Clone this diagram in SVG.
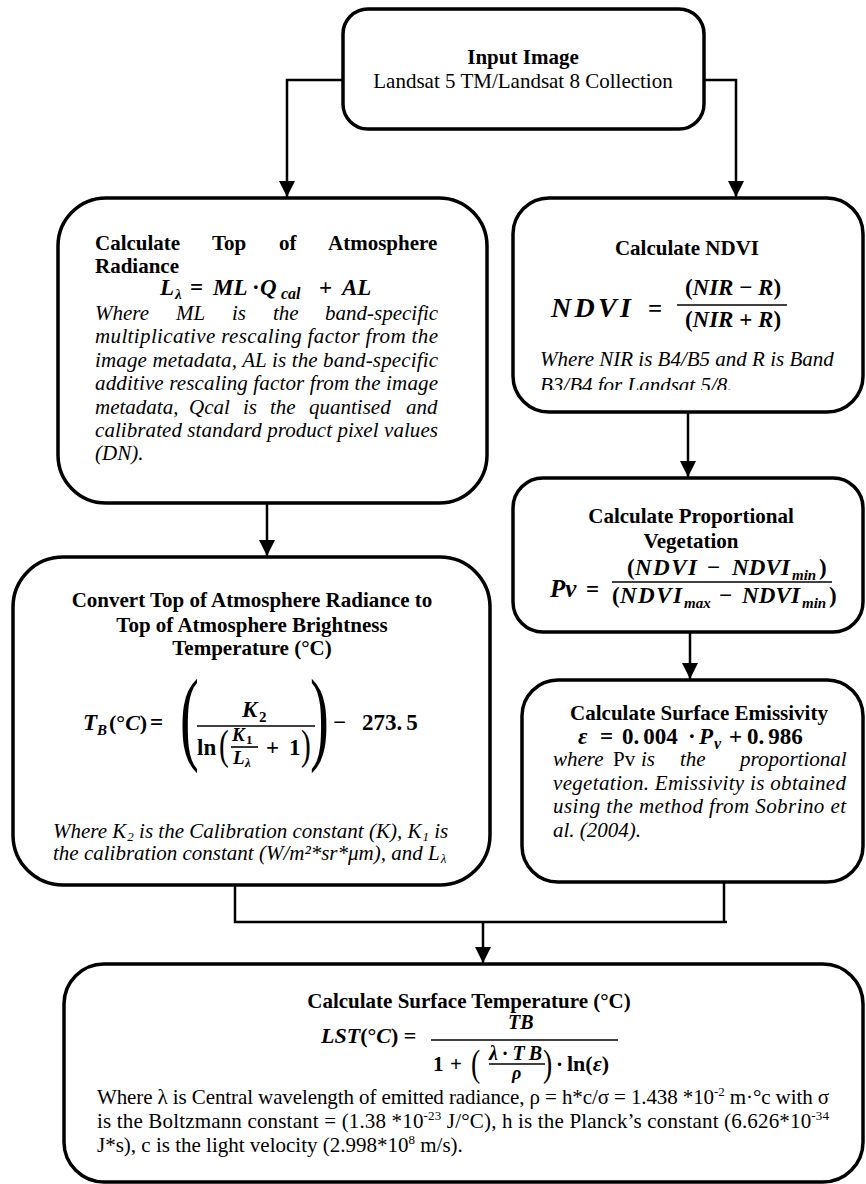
<svg xmlns="http://www.w3.org/2000/svg" width="866" height="1184" viewBox="0 0 866 1184">
<defs>
<style>
.box{fill:#fff;stroke:#000;stroke-width:3.5}
.c{fill:none;stroke:#000;stroke-width:2.5}
.bar{stroke:#000;stroke-width:1.6}
.h{font-family:"Liberation Serif","Times New Roman",serif;font-weight:bold;font-size:21px;fill:#000}
.t{font-family:"Liberation Serif","Times New Roman",serif;font-size:21px;fill:#000}
.i{font-family:"Liberation Serif","Times New Roman",serif;font-style:italic;font-size:21px;fill:#000}
.m{font-family:"Liberation Serif","Times New Roman",serif;font-weight:bold;font-style:italic;font-size:23px;fill:#000}
.u{font-family:"Liberation Serif","Times New Roman",serif;font-weight:bold;font-size:23px;fill:#000}
.p{font-family:"Liberation Serif","Times New Roman",serif;fill:#000}
.n{font-style:normal}
</style>
<marker id="arr" viewBox="0 0 16 16" refX="16" refY="8" markerWidth="16" markerHeight="16" markerUnits="userSpaceOnUse" orient="auto">
<path d="M0,0 L16,8 L0,16 z" fill="#000"/>
</marker>
<clipPath id="clipNdvi"><rect x="513" y="360" width="350" height="30"/></clipPath>
<clipPath id="clipConv"><rect x="13" y="815" width="440" height="60"/></clipPath>
</defs>
<rect width="866" height="1184" fill="#fff"/>

<g id="input-image">
<rect class="box" x="343" y="9" width="361" height="120" rx="25"/>
<text class="h" x="523" y="64" text-anchor="middle">Input Image</text>
<text class="t" x="523" y="88" text-anchor="middle">Landsat 5 TM/Landsat 8 Collection</text>
</g>

<g id="toa-radiance">
<rect class="box" x="58" y="198" width="429" height="305" rx="48"/>
<text class="h" y="250"><tspan x="95">Calculate</tspan><tspan x="212">Top</tspan><tspan x="279">of</tspan><tspan x="328">Atmosphere</tspan></text>
<text class="h" x="95" y="273">Radiance</text>
<text class="m" x="160" y="295">L</text>
<text class="m" x="175" y="299" style="font-size:15px">λ</text>
<text class="u" x="190" y="295">=</text>
<text class="m" x="213" y="295">ML</text>
<text class="u" x="252" y="295">·</text>
<text class="m" x="260" y="295">Q</text>
<text class="m" x="281" y="299" style="font-size:16px">cal</text>
<text class="u" x="319" y="295">+</text>
<text class="m" x="342" y="295">AL</text>
<text class="i" y="320"><tspan x="95">Where</tspan><tspan x="176">ML</tspan><tspan x="232">is</tspan><tspan x="273">the</tspan><tspan x="325">band-specific</tspan></text>
<text class="i" x="95" y="343" textLength="343" lengthAdjust="spacing">multiplicative rescaling factor from the</text>
<text class="i" x="95" y="367" textLength="343" lengthAdjust="spacing">image metadata, AL is the band-specific</text>
<text class="i" x="95" y="390" textLength="343" lengthAdjust="spacing">additive rescaling factor from the image</text>
<text class="i" y="414"><tspan x="95">metadata,</tspan><tspan x="189">Qcal</tspan><tspan x="243">is</tspan><tspan x="270">the</tspan><tspan x="309">quantised</tspan><tspan x="406">and</tspan></text>
<text class="i" x="95" y="437" textLength="343" lengthAdjust="spacing">calibrated standard product pixel values</text>
<text class="i" x="95" y="460">(DN).</text>
</g>

<g id="toa-brightness">
<rect class="box" x="13" y="557" width="477" height="328" rx="50"/>
<text class="h" x="252" y="607" text-anchor="middle">Convert Top of Atmosphere Radiance to</text>
<text class="h" x="252" y="632" text-anchor="middle">Top of Atmosphere Brightness</text>
<text class="h" x="252" y="655" text-anchor="middle">Temperature (°C)</text>
<text class="m" x="83" y="730">T</text>
<text class="m" x="97" y="735" style="font-size:15px">B</text>
<text class="u" x="109" y="730" style="font-size:22px">(°<tspan font-style="italic">C</tspan>)</text>
<text class="u" x="150" y="730">=</text>
<text class="p" font-size="103" transform="translate(180,751) scale(0.55,1)">(</text>
<text class="m" x="242" y="717">K</text>
<text class="u" x="259" y="722" style="font-size:15px">2</text>
<line class="bar" x1="197" y1="726" x2="315" y2="726"/>
<text class="u" x="197" y="755">ln</text>
<text class="p" font-size="42" transform="translate(219,759) scale(0.7,1)">(</text>
<text class="m" x="232" y="741" style="font-size:19px">K</text>
<text class="u" x="246" y="744" style="font-size:13px">1</text>
<line class="bar" x1="231" y1="747" x2="258" y2="747" stroke-width="1.2"/>
<text class="m" x="233" y="764" style="font-size:19px">L</text>
<text class="m" x="245" y="767" style="font-size:13px">λ</text>
<text class="u" x="266" y="755">+</text>
<text class="u" x="289" y="755">1</text>
<text class="p" font-size="42" transform="translate(301,759) scale(0.7,1)">)</text>
<text class="p" font-size="103" transform="translate(310,751) scale(0.55,1)">)</text>
<text class="u" x="333" y="730">−</text>
<text class="u" x="362" y="730">273.<tspan dx="4">5</tspan></text>
<g clip-path="url(#clipConv)">
<text class="i" x="53" y="838">Where K<tspan font-size="13" dx="1" dy="3">2</tspan><tspan dy="-3"> is the Calibration constant (K), K</tspan><tspan font-size="13" dx="1" dy="3">1</tspan><tspan dy="-3"> is</tspan></text>
<text class="i" x="53" y="860">the calibration constant (W/m²*sr*μm), and L<tspan font-size="13" dx="1" dy="3">λ</tspan></text>
</g>
</g>

<g id="ndvi">
<rect class="box" x="513" y="198" width="350" height="214" rx="36"/>
<text class="h" x="687" y="255" text-anchor="middle">Calculate NDVI</text>
<text class="m" x="551" y="317" style="font-size:28px" textLength="80" lengthAdjust="spacing">NDVI</text>
<text class="u" x="648" y="317" style="font-size:25px">=</text>
<text class="m" x="733" y="295" text-anchor="middle"><tspan class="n">(</tspan>NIR <tspan class="n">−</tspan> R<tspan class="n">)</tspan></text>
<line class="bar" x1="677" y1="305" x2="787" y2="305"/>
<text class="m" x="733" y="327" text-anchor="middle"><tspan class="n">(</tspan>NIR <tspan class="n">+</tspan> R<tspan class="n">)</tspan></text>
<text class="i" x="540" y="366">Where NIR is B4/B5 and R is Band</text>
<text class="i" x="540" y="392" clip-path="url(#clipNdvi)">B3/B4 for Landsat 5/8.</text>
</g>

<g id="proportional-vegetation">
<rect class="box" x="513" y="478" width="350" height="154" rx="30"/>
<text class="h" x="691" y="523" text-anchor="middle">Calculate Proportional</text>
<text class="h" x="691" y="548" text-anchor="middle">Vegetation</text>
<text class="m" x="550" y="597" style="font-size:25px">Pv</text>
<text class="u" x="586" y="597">=</text>
<text class="u" x="627" y="575">(</text>
<text class="m" x="635" y="575" textLength="62" lengthAdjust="spacing">NDVI</text>
<text class="u" x="707" y="575">−</text>
<text class="m" x="732" y="575" textLength="58" lengthAdjust="spacing">NDVI</text>
<text class="m" x="792" y="580" style="font-size:15px">min</text>
<text class="u" x="819" y="575">)</text>
<line class="bar" x1="612" y1="582" x2="832" y2="582"/>
<text class="u" x="612" y="603">(</text>
<text class="m" x="620" y="603" textLength="62" lengthAdjust="spacing">NDVI</text>
<text class="m" x="684" y="608" style="font-size:15px">max</text>
<text class="u" x="719" y="603">−</text>
<text class="m" x="742" y="603" textLength="58" lengthAdjust="spacing">NDVI</text>
<text class="m" x="802" y="608" style="font-size:15px">min</text>
<text class="u" x="829" y="603">)</text>
</g>

<g id="surface-emissivity">
<rect class="box" x="522" y="680" width="341" height="202" rx="36"/>
<text class="h" x="699" y="720" text-anchor="middle">Calculate Surface Emissivity</text>
<text class="m" x="578" y="744">ε</text>
<text class="u" x="600" y="744">=</text>
<text class="u" x="622" y="744">0.<tspan dx="4">004</tspan></text>
<text class="u" x="688" y="744">·</text>
<text class="m" x="699" y="744">P</text>
<text class="m" x="714" y="749" style="font-size:16px">v</text>
<text class="u" x="729" y="744">+</text>
<text class="u" x="747" y="744">0.<tspan dx="4">986</tspan></text>
<text class="i" y="766"><tspan x="553">where</tspan><tspan x="613" font-style="normal">Pv</tspan><tspan x="641">is</tspan><tspan x="680">the</tspan><tspan x="740">proportional</tspan></text>
<text class="i" x="553" y="790" textLength="293" lengthAdjust="spacing">vegetation. Emissivity is obtained</text>
<text class="i" x="553" y="813" textLength="293" lengthAdjust="spacing">using the method from Sobrino et</text>
<text class="i" x="553" y="837">al. (2004).</text>
</g>

<g id="surface-temperature">
<rect class="box" x="64" y="964" width="799" height="218" rx="40"/>
<text class="h" x="469" y="1008" text-anchor="middle">Calculate Surface Temperature (°C)</text>
<text class="m" x="321" y="1043" style="font-size:22px">LST<tspan class="n">(°</tspan>C<tspan class="n">) =</tspan></text>
<text class="m" x="508" y="1029" style="font-size:20px">TB</text>
<line class="bar" x1="431" y1="1040" x2="618" y2="1040"/>
<text class="u" x="433" y="1071" style="font-size:21px">1</text>
<text class="u" x="450" y="1071" style="font-size:21px">+</text>
<text class="p" font-size="37" transform="translate(471,1076) scale(0.75,1)">(</text>
<text class="m" x="489" y="1060" style="font-size:20px" textLength="53" lengthAdjust="spacing">λ<tspan class="n">·</tspan>TB</text>
<line class="bar" x1="489" y1="1064" x2="545" y2="1064" stroke-width="1.2"/>
<text class="m" x="512" y="1079" style="font-size:18px">ρ</text>
<text class="p" font-size="37" transform="translate(543,1076) scale(0.75,1)">)</text>
<text class="u" x="556" y="1071" style="font-size:21px">·</text>
<text class="u" x="567" y="1071" style="font-size:22px">ln(<tspan font-style="italic">ε</tspan>)</text>
<text class="t" x="97" y="1104" textLength="732" lengthAdjust="spacing">Where λ is Central wavelength of emitted radiance, ρ = h*c/σ = 1.438 *10<tspan dy="-8" font-size="13">-2</tspan><tspan dy="8"> m·°c with σ</tspan></text>
<text class="t" x="97" y="1128" textLength="732" lengthAdjust="spacing">is the Boltzmann constant = (1.38 *10<tspan dy="-8" font-size="13">-23</tspan><tspan dy="8"> J/°C), h is the Planck’s constant (6.626*10</tspan><tspan dy="-8" font-size="13">-34</tspan></text>
<text class="t" x="97" y="1152">J*s), c is the light velocity (2.998*10<tspan dy="-8" font-size="13">8</tspan><tspan dy="8"> m/s).</tspan></text>
</g>

<g id="connectors">
<path class="c" d="M343,80 H287 V197" marker-end="url(#arr)"/>
<path class="c" d="M704,80 H736 V197" marker-end="url(#arr)"/>
<path class="c" d="M267,503 V556" marker-end="url(#arr)"/>
<path class="c" d="M688,412 V477" marker-end="url(#arr)"/>
<path class="c" d="M690,632 V679" marker-end="url(#arr)"/>
<path class="c" d="M235,885 V922 H727"/>
<path class="c" d="M724,882 V922"/>
<path class="c" d="M483,922 V963" marker-end="url(#arr)"/>
</g>
</svg>
